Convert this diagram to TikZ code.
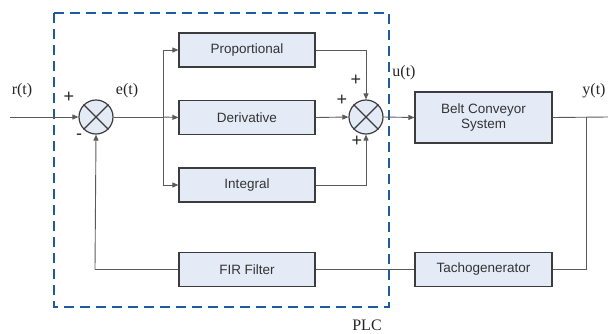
\documentclass[tikz,border=0pt]{standalone}
\usepackage{fontspec}
\setmainfont{Liberation Serif}
\newfontfamily\boxfont{Liberation Sans}
\usetikzlibrary{arrows.meta}
\definecolor{boxfill}{HTML}{E4EBF7}
\definecolor{boxline}{HTML}{3C3C3C}
\definecolor{wire}{HTML}{5A5A5A}
\definecolor{plcblue}{HTML}{1F5C9E}
\tikzset{
  block/.style={draw=boxline, line width=1.2pt, fill=boxfill, minimum width=136pt,
    minimum height=34pt, inner sep=0pt, align=center,
    font=\boxfont\fontsize{13.5}{16}\selectfont, text=black!80},
  summer/.style={draw=boxline, line width=1.2pt, fill=boxfill, circle,
    minimum size=34pt, inner sep=0pt},
  conn/.style={draw=wire, line width=0.9pt},
  arr/.style={conn, -{Triangle[length=6pt,width=5pt]}},
  sig/.style={font=\fontsize{16}{18}\selectfont, text=black!85, inner sep=0pt},
  sign/.style={font=\boxfont\fontsize{18}{18}\selectfont, text=black!85, inner sep=0pt}
}
\begin{document}
\begin{tikzpicture}[x=1pt,y=-1pt]
\useasboundingbox (0,0) rectangle (608,333);

% PLC boundary
\draw[plcblue, line width=2.8pt, dash pattern=on 10pt off 6pt] (54,13) rectangle (389,307);
\node[sig] (plc) at (367,325) {PLC};

% summing junctions
\node[summer] (s1) at (96,117) {};
\draw[boxline, line width=1.2pt] (s1.north west) -- (s1.south east) (s1.north east) -- (s1.south west);
\node[summer] (s2) at (366,117) {};
\draw[boxline, line width=1.2pt] (s2.north west) -- (s2.south east) (s2.north east) -- (s2.south west);

% controller blocks
\node[block] (p) at (247,50) {Proportional};
\node[block] (d) at (247,117.5) {Derivative};
\node[block] (i) at (247,185) {Integral};
\node[block] (fir) at (247,269.5) {FIR Filter};

% plant and sensor
\node[block, minimum width=137pt, minimum height=51pt] (belt) at (483.5,117.5) {Belt Conveyor\\[-1pt]System};
\node[block, minimum width=137pt] (tacho) at (483.5,269.5) {Tachogenerator};

% signal points
\coordinate (in) at (10,117);
\coordinate (br) at (163,117);
\coordinate (out) at (608,117);
\coordinate (tap) at (586,117);
\coordinate (fb) at (95,269.5);

% forward path
\draw[arr] (in) -- (s1.west);
\draw[conn] (s1.east) -- (br);
\draw[arr] (br) -- (d.west);
\draw[arr] (br) |- (p.west);
\draw[arr] (br) |- (i.west);
\draw[arr] (p.east) -| (s2.north);
\draw[arr] (d.east) -- (s2.west);
\draw[arr] (i.east) -| (s2.south);
\draw[arr] (s2.east) -- (belt.west);
\draw[conn] (belt.east) -- (out);

% feedback path
\draw[conn] (tap) |- (tacho.east);
\draw[conn] (tacho.west) -- (fir.east);
\draw[conn] (fir.west) -- (fb);
\draw[arr] (fb) -- (s1.south);

% signal labels
\node[sig] (rt) at (22,91) {r(t)};
\node[sig] (et) at (127,91) {e(t)};
\node[sig] (ut) at (404,73) {u(t)};
\node[sig] (yt) at (594,91) {y(t)};

% signs
\node[sign] (p1) at (69,97) {+};
\node[sign] (m1) at (79,137) {-};
\node[sign] (p2) at (356,80) {+};
\node[sign] (p3) at (342,100) {+};
\node[sign] (p4) at (357,141) {+};
\end{tikzpicture}
\end{document}
